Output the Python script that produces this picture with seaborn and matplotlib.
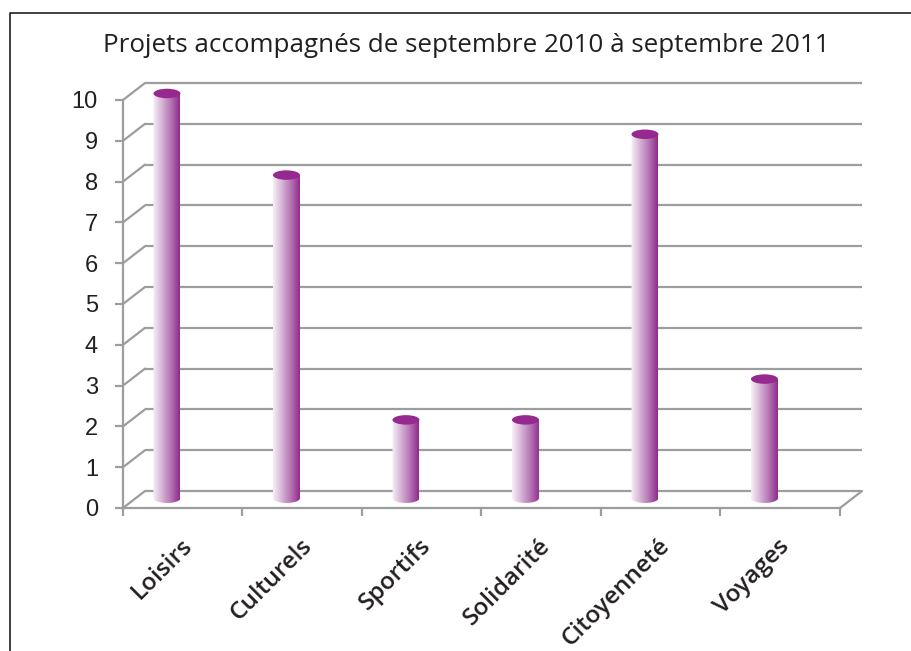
import numpy as np
import matplotlib
matplotlib.use('Agg')
import matplotlib.pyplot as plt
import seaborn as sns
from matplotlib.patches import Ellipse, PathPatch
from matplotlib.path import Path
from matplotlib.colors import LinearSegmentedColormap
from matplotlib.transforms import ScaledTranslation
from matplotlib.lines import Line2D

# données
categories = ['Loisirs', 'Culturels', 'Sportifs', 'Solidarité', 'Citoyenneté', 'Voyages']
values = [10, 8, 2, 2, 9, 3]
y_ticks = list(range(0, 11))
title = 'Projets accompagnés de septembre 2010 à septembre 2011'

sns.set_style('white')
plt.rcParams['font.family'] = ['Liberation Sans', 'DejaVu Sans']

W, H = 912, 651
fig = plt.figure(figsize=(W / 100, H / 100), dpi=100)

# placement (pixels) du plan avant du graphique 3D
X0, X1 = 123, 840
Y0, Y10 = 508, 100
su = (X1 - X0) / len(categories)
sv = (Y0 - Y10) / 10
XMAX, YMAX = 5.8, 10.6
ax = fig.add_axes([X0 / W, 1 - Y0 / H,
                   (XMAX + 0.5) * su / W, YMAX * sv / H])

DX, DY = 22 / su, 17 / sv       # profondeur
GRID = '#9d9d9f'
LW = 1.6

sns.barplot(x=categories, y=values, width=27 / su, errorbar=None, ax=ax,
            color='#93278f', zorder=3)

ax.set_xlim(-0.5, XMAX)
ax.set_ylim(0, YMAX)

# mur du fond + mur gauche
for v in y_ticks:
    ax.plot([-0.5 + DX, len(categories) - 0.5 + DX], [v + DY, v + DY],
            color=GRID, lw=LW, zorder=1, clip_on=False, solid_capstyle='butt')
    ax.plot([-0.5, -0.5 + DX], [v, v + DY], color=GRID, lw=LW, zorder=1,
            clip_on=False)
ax.plot([len(categories) - 0.5, len(categories) - 0.5 + DX], [0, DY],
        color=GRID, lw=LW, zorder=1, clip_on=False)

# cylindres
cmap = LinearSegmentedColormap.from_list('cyl', ['#f8f0f8', '#d5b3d4', '#b574b3', '#8f2a8c'])
grad = np.linspace(0, 1, 256).reshape(1, -1)
SHIFT = -0.132
BASE = 0.24
TOP = 0.16
EH = 9.5 / sv
for p in list(ax.patches):
    x = p.get_x() + SHIFT
    w = p.get_width()
    top = p.get_height() + TOP
    p.set_visible(False)
    xc = x + w / 2
    t = np.linspace(np.pi, 2 * np.pi, 40)
    pts = [(xc + w / 2 * np.cos(a), BASE + EH / 2 * np.sin(a)) for a in t]
    pts += [(x + w, top), (x, top), pts[0]]
    clip = PathPatch(Path(pts), transform=ax.transData, facecolor='none',
                     edgecolor='none')
    ax.add_patch(clip)
    im = ax.imshow(grad, cmap=cmap, aspect='auto', zorder=3,
                   extent=[x, x + w, BASE - EH / 2, top])
    im.set_clip_path(clip)
    ax.add_patch(Ellipse((xc, top), w, EH, facecolor='#96298f',
                         edgecolor='none', zorder=4, clip_on=False))

ax.set_xlim(-0.5, XMAX)
ax.set_ylim(0, YMAX)

# axes avant
for s in ['top', 'right']:
    ax.spines[s].set_visible(False)
ax.spines['left'].set_bounds(0, 10)
ax.spines['bottom'].set_bounds(-0.5, len(categories) - 0.5)
for s in ['left', 'bottom']:
    ax.spines[s].set_color(GRID)
    ax.spines[s].set_linewidth(LW)
    ax.spines[s].set_zorder(2)

ax.set_yticks(y_ticks)
ax.set_yticklabels([str(v) for v in y_ticks])
ax.tick_params(axis='y', direction='out', length=6, width=LW, color=GRID,
               pad=12, labelsize=17, labelcolor='#231f20', left=True)
ax.set_xticks(range(len(categories)))
ax.set_xticklabels(categories, rotation=45, ha='right', va='center',
                   rotation_mode='anchor', fontsize=17.5, fontweight='semibold',
                   family=['Open Sans', 'DejaVu Sans'], color='#231f20')
ax.tick_params(axis='x', which='major', length=0, pad=25, bottom=True)
ax.set_xticks(np.arange(-0.5, len(categories)), minor=True)
ax.tick_params(axis='x', which='minor', direction='out', length=6, width=LW,
               color=GRID, bottom=True)
off = ScaledTranslation(6 / 100, 0, fig.dpi_scale_trans)
for lab in ax.get_xticklabels():
    lab.set_transform(lab.get_transform() + off)
ax.set_xlabel('')
ax.set_ylabel('')

fig.text(466 / W, 1 - 46 / H, title, ha='center', va='center', fontsize=18.7,
         family=['Open Sans', 'DejaVu Sans'], color='#231f20')

# cadre
fig.add_artist(Line2D([10 / W, 10 / W, 1], [0, 1 - 13 / H, 1 - 13 / H],
                      transform=fig.transFigure, color='#231f20', lw=1.2))

fig.savefig('out.png', dpi=100, facecolor='white')
